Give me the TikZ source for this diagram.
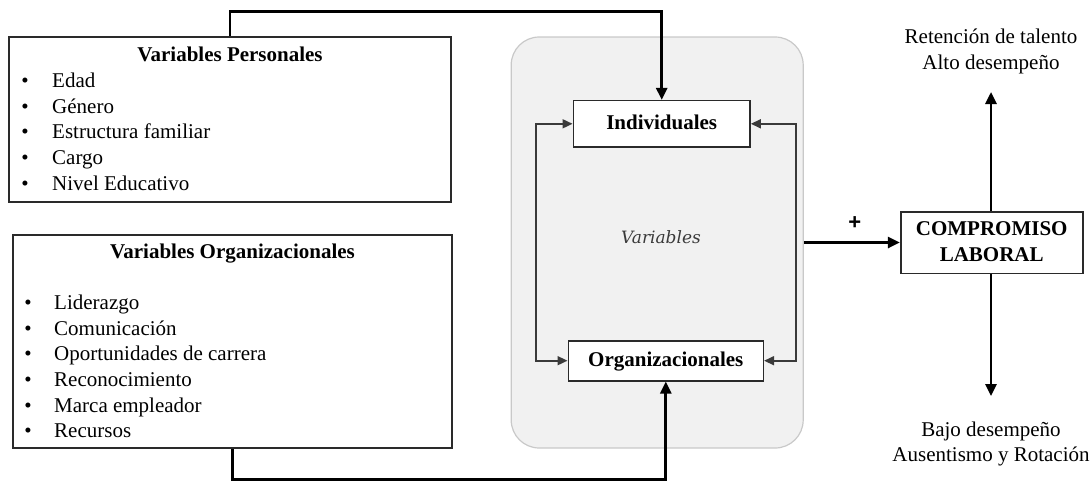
\documentclass[tikz,border=0pt]{standalone}
\usepackage{fontspec}
\setmainfont{Liberation Serif}
\newfontfamily\plusfont{Liberation Sans}
\newfontfamily\panelfont{DejaVu Serif}
\usetikzlibrary{arrows.meta}
\definecolor{panelfill}{HTML}{F1F1F1}
\definecolor{paneledge}{HTML}{C9C9C9}
\definecolor{boxedge}{HTML}{2A2A2A}
\definecolor{linkgray}{HTML}{3A3A3A}
\tikzset{
  txt/.style={font=\fontsize{21}{25}\selectfont, inner sep=0pt},
  boldtxt/.style={txt, font=\fontsize{21}{25}\selectfont\bfseries},
  listbox/.style={draw=boxedge, line width=1.8pt, fill=white, inner sep=0pt},
  varbox/.style={draw=boxedge, line width=1.6pt, fill=white, inner sep=0pt},
  mainlink/.style={draw=black, line width=2.7pt, -{Triangle[length=12pt,width=11pt]}},
  duallink/.style={draw=linkgray, line width=1.7pt, {Triangle[length=10pt,width=9pt]}-{Triangle[length=10pt,width=9pt]}},
  bul/.style={txt, anchor=base},
  item/.style={txt, anchor=base west},
}
\begin{document}
\begin{tikzpicture}[x=1pt, y=-1pt]
\useasboundingbox (0,0) rectangle (1090,480);

% grey panel holding the two variable groups
\node[draw=paneledge, line width=1.2pt, fill=panelfill, rounded corners=28pt,
      minimum width=292pt, minimum height=411pt, inner sep=0pt] (panel) at (657.2,242.5) {};
\node[font=\fontsize{17}{20}\panelfont\itshape, text=linkgray, inner sep=0pt, anchor=base] (pvar) at (661,243.3) {Variables};

% personal variables
\node[listbox, minimum width=441.5pt, minimum height=164.4pt] (pers) at (230,119.5) {};
\node[boldtxt, anchor=base] (persh) at (230,61.7) {Variables Personales};
\foreach \t [count=\i] in {Edad,Género,Estructura familiar,Cargo,Nivel Educativo}{
  \node[bul] (pb\i) at (25,87.3+25.7*\i-25.7) {\textbullet};
  \node[item] (pi\i) at (52,87.3+25.7*\i-25.7) {\t};
}

% organizational variables
\node[listbox, minimum width=439.6pt, minimum height=213.3pt] (orgl) at (232.5,341.6) {};
\node[boldtxt, anchor=base] (orgh) at (232.5,258.3) {Variables Organizacionales};
\foreach \t [count=\i] in {Liderazgo,Comunicación,Oportunidades de carrera,Reconocimiento,Marca empleador,Recursos}{
  \node[bul] (ob\i) at (28,309.3+25.7*\i-25.7) {\textbullet};
  \node[item] (oi\i) at (54,309.3+25.7*\i-25.7) {\t};
}

% variable boxes inside the panel
\node[varbox, minimum width=176.7pt, minimum height=46.3pt] (ind) at (661.7,123.8) {};
\node[boldtxt, anchor=base] (indt) at (661.7,129.3) {Individuales};
\node[varbox, minimum width=195pt, minimum height=40pt] (orgv) at (665.8,360.7) {};
\node[boldtxt, anchor=base] (orgvt) at (665.8,366.7) {Organizacionales};

% outcome box
\node[varbox, minimum width=182pt, minimum height=61.6pt] (comp) at (991.7,242.5) {};
\node[boldtxt, anchor=base] (comp1) at (991.7,235.7) {COMPROMISO};
\node[boldtxt, anchor=base] (comp2) at (991.7,261) {LABORAL};

% outcome labels
\node[txt, anchor=base] (up1) at (991,43.3) {Retención de talento};
\node[txt, anchor=base] (up2) at (991,69) {Alto desempeño};
\node[txt, anchor=base] (dn1) at (991,436.7) {Bajo desempeño};
\node[txt, anchor=base] (dn2) at (991,461.7) {Ausentismo y Rotación};
\coordinate (uptip) at (991,92);
\coordinate (dntip) at (991,396);

% connectors
\draw[mainlink] (pers.north) -- ++(0,-25) -| (ind.north);
\draw[mainlink] (orgl.south) -- ++(0,30) -| (orgv.south);
\draw[duallink] (ind.west) -- ++(-36.6,0) |- (orgv.west);
\draw[duallink] (ind.east) -- ++(45,0) |- (orgv.east);
\draw[mainlink] (panel.east) -- (comp.west)
  node[pos=0.53, above=12pt, font=\fontsize{22}{22}\plusfont\bfseries, inner sep=0pt] (plus) {+};
\draw[mainlink] (comp.north -| uptip) -- (uptip);
\draw[mainlink] (comp.south -| dntip) -- (dntip);
\end{tikzpicture}
\end{document}
